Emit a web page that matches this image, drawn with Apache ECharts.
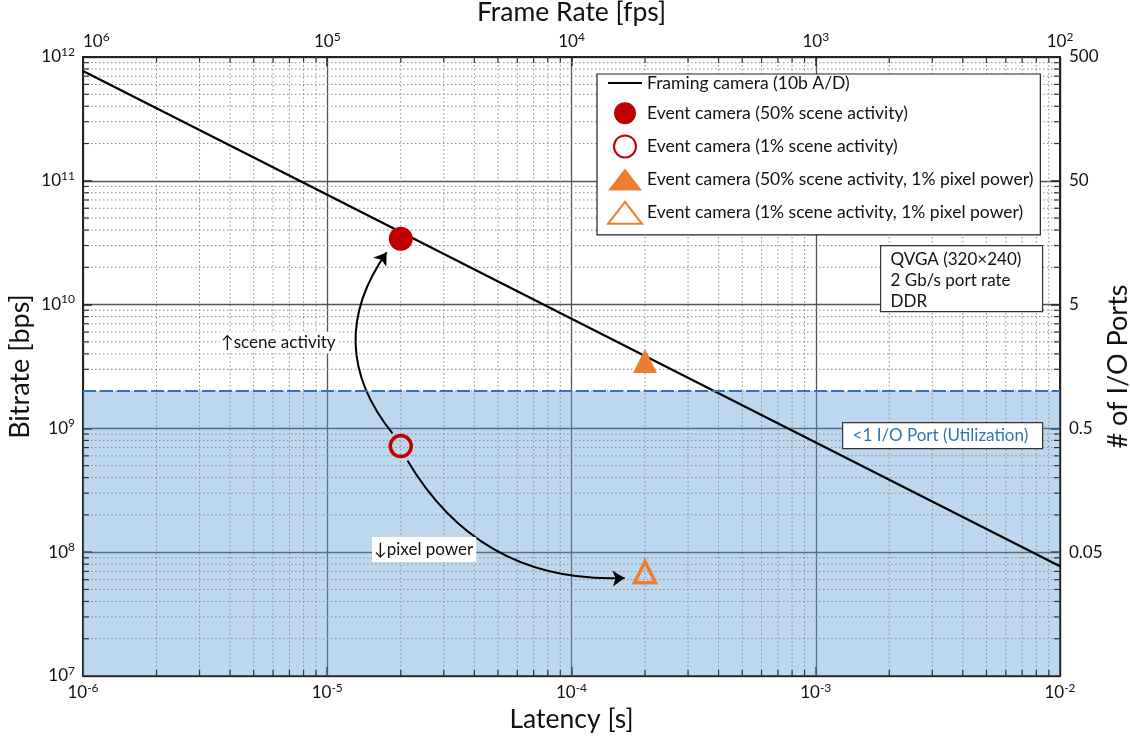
<!DOCTYPE html>
<html>
<head>
<meta charset="utf-8">
<script src="https://cdn.jsdelivr.net/npm/echarts@6/dist/echarts.min.js"></script>
<style>
  html, body { margin: 0; padding: 0; background: #fff; }
  #main { width: 1130px; height: 738px; }
</style>
</head>
<body>
<div id="main"></div>
<script>
// framing camera (10b A/D, QVGA): latency [s] -> bitrate [bps]
var framingLatency = [1e-6, 1e-5, 1e-4, 1e-3, 1e-2];
var framingBitrate = [7.7e11, 7.7e10, 7.7e9, 7.7e8, 7.7e7];

// event camera points [latency, bitrate]
var event50 = [[2e-5, 3.4e10]];
var event1 = [[2e-5, 7.2e8]];
var event50pp = [[2e-4, 3.5e9]];
var event1pp = [[2e-4, 6.9e7]];

// one I/O port (2 Gb/s)
var portRate = 2e9;

// annotation arrows [from, to]
var arrowUp = [[1.85e-5, 9.1e8], [1.75e-5, 2.64e10]];
var arrowDown = [[2.13e-5, 5.5e8], [1.65e-4, 6.2e7]];

var legendNames = [
    'Framing camera (10b A/D)',
    'Event camera (50% scene activity)',
    'Event camera (1% scene activity)',
    'Event camera (50% scene activity, 1% pixel power)',
    'Event camera (1% scene activity, 1% pixel power)'
];

var FONT = 'Lato';

// minor log grid (2..9 x 10^k)
var xMinor = [], yMinor = [];
for (var k = -6; k < -2; k++) for (var m = 2; m < 10; m++) xMinor.push([m * Math.pow(10, k), 1e7]);
for (var k2 = 7; k2 < 12; k2++) for (var m2 = 2; m2 < 10; m2++) yMinor.push([1e-6, m2 * Math.pow(10, k2)]);

var framingData = framingLatency.map(function (x, i) { return [x, framingBitrate[i]]; });

function pow10(v) {
    var e = Math.round(Math.log10(v));
    return '{b|10}{s|' + e + '}';
}
var powRich = {
    b: { fontSize: 17, lineHeight: 22, fontFamily: FONT, color: '#111' },
    s: { fontSize: 12, verticalAlign: 'top', fontFamily: FONT, color: '#111' }
};

function gridLines(vertical) {
    return function (params, api) {
        var cs = params.coordSys;
        var p = api.coord([api.value(0), api.value(1)]);
        var dot = { stroke: '#8a8a8a', lineWidth: 1, lineDash: [1.5, 2.5] };
        var tk = { stroke: '#333', lineWidth: 1.2 };
        var t = 6;
        if (vertical) {
            return { type: 'group', children: [
                { type: 'line', shape: { x1: p[0], y1: cs.y, x2: p[0], y2: cs.y + cs.height }, style: dot },
                { type: 'line', shape: { x1: p[0], y1: cs.y, x2: p[0], y2: cs.y + t }, style: tk },
                { type: 'line', shape: { x1: p[0], y1: cs.y + cs.height - t, x2: p[0], y2: cs.y + cs.height }, style: tk }
            ] };
        }
        return { type: 'group', children: [
            { type: 'line', shape: { x1: cs.x, y1: p[1], x2: cs.x + cs.width, y2: p[1] }, style: dot },
            { type: 'line', shape: { x1: cs.x, y1: p[1], x2: cs.x + t, y2: p[1] }, style: tk },
            { type: 'line', shape: { x1: cs.x + cs.width - t, y1: p[1], x2: cs.x + cs.width, y2: p[1] }, style: tk }
        ] };
    };
}

var xNameStyle = { fontSize: 26.5, fontFamily: FONT, color: '#111' };
var yNameStyle = { fontSize: 27, fontFamily: FONT, color: '#111' };

var myChart = echarts.init(document.getElementById('main'));

myChart.setOption({
    animation: false,
    textStyle: { fontFamily: FONT },
    grid: { left: 83, right: 70, top: 57, bottom: 62, outerBoundsMode: 'none', containLabel: false },
    legend: {
        orient: 'vertical',
        left: 597,
        top: 74,
        padding: [0, 7, 10, 10],
        itemWidth: 34,
        itemHeight: 22,
        itemGap: 10.2,
        backgroundColor: '#fff',
        borderColor: '#222',
        borderWidth: 1.2,
        textStyle: { fontSize: 17.5, fontFamily: FONT, color: '#111' },
        data: [
            { name: legendNames[0], itemStyle: { opacity: 0 } },
            legendNames[1], legendNames[2], legendNames[3], legendNames[4]
        ]
    },
    xAxis: [
        {
            type: 'log', min: 1e-6, max: 1e-2, logBase: 10,
            name: 'Latency [s]', nameLocation: 'middle', nameGap: 29,
            nameTextStyle: xNameStyle,
            axisLine: { lineStyle: { color: '#222', width: 2 } },
            axisTick: { inside: true, length: 9, lineStyle: { color: '#222', width: 1.5 } },
            axisLabel: { formatter: pow10, rich: powRich, margin: 6 },
            splitLine: { show: true, lineStyle: { color: '#555', width: 1.3 } }
        },
        {
            type: 'log', min: 1e2, max: 1e6, logBase: 10, inverse: true, position: 'top',
            name: 'Frame Rate [fps]', nameLocation: 'middle', nameGap: 30,
            nameTextStyle: xNameStyle,
            axisLine: { lineStyle: { color: '#222', width: 2 } },
            axisTick: { inside: true, length: 9, lineStyle: { color: '#222', width: 1.5 } },
            axisLabel: { formatter: pow10, rich: powRich, margin: 4, alignMaxLabel: 'left' },
            splitLine: { show: false }
        }
    ],
    yAxis: [
        {
            type: 'log', min: 1e7, max: 1e12, logBase: 10,
            name: 'Bitrate [bps]', nameLocation: 'middle', nameGap: 49, nameRotate: 90,
            nameMoveOverlap: false,
            nameTextStyle: yNameStyle,
            axisLine: { lineStyle: { color: '#222', width: 2 } },
            axisTick: { inside: true, length: 9, lineStyle: { color: '#222', width: 1.5 } },
            axisLabel: { formatter: pow10, rich: powRich, margin: 8 },
            splitLine: { show: true, lineStyle: { color: '#555', width: 1.3 } }
        },
        {
            type: 'log', min: 1e7, max: 1e12, logBase: 10, position: 'right',
            name: '# of I/O Ports', nameLocation: 'middle', nameGap: 45, nameRotate: 90,
            nameMoveOverlap: false,
            nameTextStyle: yNameStyle,
            axisLine: { lineStyle: { color: '#222', width: 2 } },
            axisTick: { inside: true, length: 9, lineStyle: { color: '#222', width: 1.5 } },
            axisLabel: {
                margin: 9, fontSize: 17, color: '#111', fontFamily: FONT,
                formatter: function (v) {
                    if (v < 5e7) return '';
                    return String(parseFloat((v / portRate).toPrecision(3)));
                }
            },
            splitLine: { show: false }
        }
    ],
    series: [
        {
            name: 'ports', type: 'line', data: [], z: 1, silent: true,
            markArea: {
                silent: true,
                itemStyle: { color: 'rgba(91,155,213,0.4)' },
                data: [[{ coord: [1e-6, 1e7] }, { coord: [1e-2, portRate] }]]
            },
            markLine: {
                silent: true, symbol: 'none', label: { show: false },
                lineStyle: { color: '#2E75B6', width: 2, type: [13, 4] },
                data: [{ yAxis: portRate }]
            }
        },
        { name: 'xminor', type: 'custom', z: 2, silent: true, renderItem: gridLines(true), data: xMinor },
        { name: 'yminor', type: 'custom', z: 2, silent: true, renderItem: gridLines(false), data: yMinor },
        {
            name: legendNames[0], type: 'line', z: 3, symbol: 'none', showSymbol: false,
            lineStyle: { color: '#000', width: 2.2 }, itemStyle: { color: '#000' },
            data: framingData
        },
        {
            name: 'arrows', type: 'lines', coordinateSystem: 'cartesian2d', z: 4, silent: true,
            symbol: ['none', 'arrow'], symbolSize: 12,
            lineStyle: { color: '#000', width: 2, opacity: 1 },
            data: [
                { coords: arrowUp, lineStyle: { curveness: 0.375 } },
                { coords: arrowDown, lineStyle: { curveness: -0.3 } }
            ]
        },
        {
            name: legendNames[1], type: 'scatter', z: 5, symbol: 'circle', symbolSize: 24,
            itemStyle: { color: '#C00000', opacity: 1 }, data: event50
        },
        {
            name: legendNames[2], type: 'scatter', z: 5, symbol: 'circle', symbolSize: 21,
            itemStyle: { color: 'rgba(255,255,255,0)', borderColor: '#C00000', borderWidth: 3.5, opacity: 1 },
            data: event1
        },
        {
            name: legendNames[3], type: 'scatter', z: 5, symbol: 'triangle', symbolSize: 24, symbolKeepAspect: true,
            itemStyle: { color: '#ED7D31', opacity: 1 }, data: event50pp
        },
        {
            name: legendNames[4], type: 'scatter', z: 5, symbol: 'triangle', symbolSize: 21, symbolKeepAspect: true,
            itemStyle: { color: 'rgba(255,255,255,0)', borderColor: '#ED7D31', borderWidth: 3.5, opacity: 1 },
            data: event1pp
        }
    ],
    graphic: [
        {
            type: 'text', left: 220, top: 332, z: 100,
            style: { text: '↑scene activity', font: '17px ' + FONT, fill: '#111', backgroundColor: '#fff', padding: [2, 2, 2, 1] }
        },
        {
            type: 'text', left: 372, top: 537, z: 100,
            style: { text: '↓pixel power', font: '17px ' + FONT, fill: '#111', backgroundColor: '#fff', padding: [4, 3, 4, 2] }
        },
        {
            type: 'group', left: 880, top: 245, z: 100,
            children: [
                { type: 'rect', z: 100, shape: { x: 0, y: 0, width: 162, height: 66 }, style: { fill: '#fff', stroke: '#333', lineWidth: 1.2 } },
                { type: 'text', z: 101, x: 10, y: 3, style: { text: 'QVGA (320×240)\n2 Gb/s port rate\nDDR', font: '17px ' + FONT, lineHeight: 21, fill: '#111' } }
            ]
        },
        {
            type: 'group', left: 842, top: 422, z: 100,
            children: [
                { type: 'rect', z: 100, shape: { x: 0, y: 0, width: 200, height: 26 }, style: { fill: '#fff', stroke: '#333', lineWidth: 1.2 } },
                { type: 'text', z: 101, x: 10, y: 4, style: { text: '<1 I/O Port (Utilization)', font: '17px ' + FONT, fill: '#2E75B6' } }
            ]
        }
    ]
});
</script>
</body>
</html>
